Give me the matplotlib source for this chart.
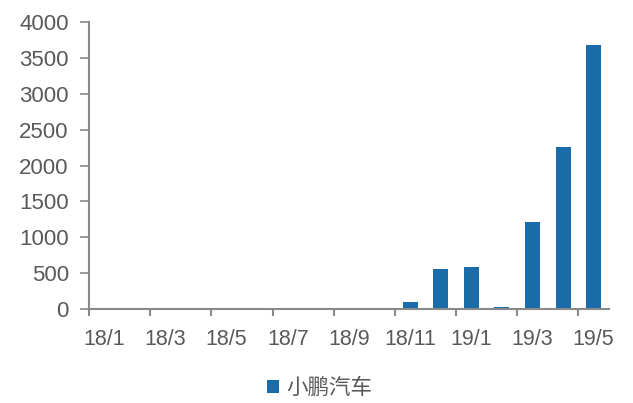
import numpy as np
import matplotlib.pyplot as plt

plt.rcParams['font.family'] = ['Liberation Sans', 'Noto Sans CJK SC', 'DejaVu Sans']

months = ['18/1', '18/2', '18/3', '18/4', '18/5', '18/6', '18/7', '18/8', '18/9',
          '18/10', '18/11', '18/12', '19/1', '19/2', '19/3', '19/4', '19/5']
sales = [0, 0, 0, 0, 0, 0, 0, 0, 0, 0, 105, 560, 592, 32, 1212, 2258, 3680]
series_name = '小鹏汽车'

bar_color = '#1a6ca8'
text_color = '#595959'
axis_color = '#898989'

fig = plt.figure(figsize=(6.33, 4.03), dpi=100)
ax = fig.add_axes([0.1406, 0.2325, 0.8214, 0.7135])

x = np.arange(len(months))
ax.bar(x, sales, width=0.49, color=bar_color, label=series_name)

ax.set_xlim(-0.5, len(months) - 0.5)
ax.set_ylim(0, 4000)
ax.set_yticks(np.arange(0, 4001, 500))

# labels on every other month, ticks on category boundaries
ax.set_xticks(x[::2])
ax.set_xticklabels(months[::2])
ax.set_xticks(np.arange(-0.5, len(months) - 1, 2), minor=True)
ax.tick_params(axis='x', which='major', length=0, pad=14, labelsize=15.5, labelcolor=text_color)
ax.tick_params(axis='x', which='minor', length=5, width=1.5, color=axis_color, direction='out')
ax.tick_params(axis='y', length=6.5, width=1.2, color=axis_color, labelsize=16, labelcolor=text_color, pad=8)

for s in ['top', 'right']:
    ax.spines[s].set_visible(False)
for s in ['left', 'bottom']:
    ax.spines[s].set_color(axis_color)
    ax.spines[s].set_linewidth(1.5)

fig.legend(loc='center', bbox_to_anchor=(0.505, 0.037), frameon=False,
           handlelength=0.55, handleheight=0.55, handletextpad=0.35,
           prop={'family': ['Noto Sans CJK SC'], 'size': 15.5}, labelcolor=text_color)

fig.savefig('out.png', dpi=100)
